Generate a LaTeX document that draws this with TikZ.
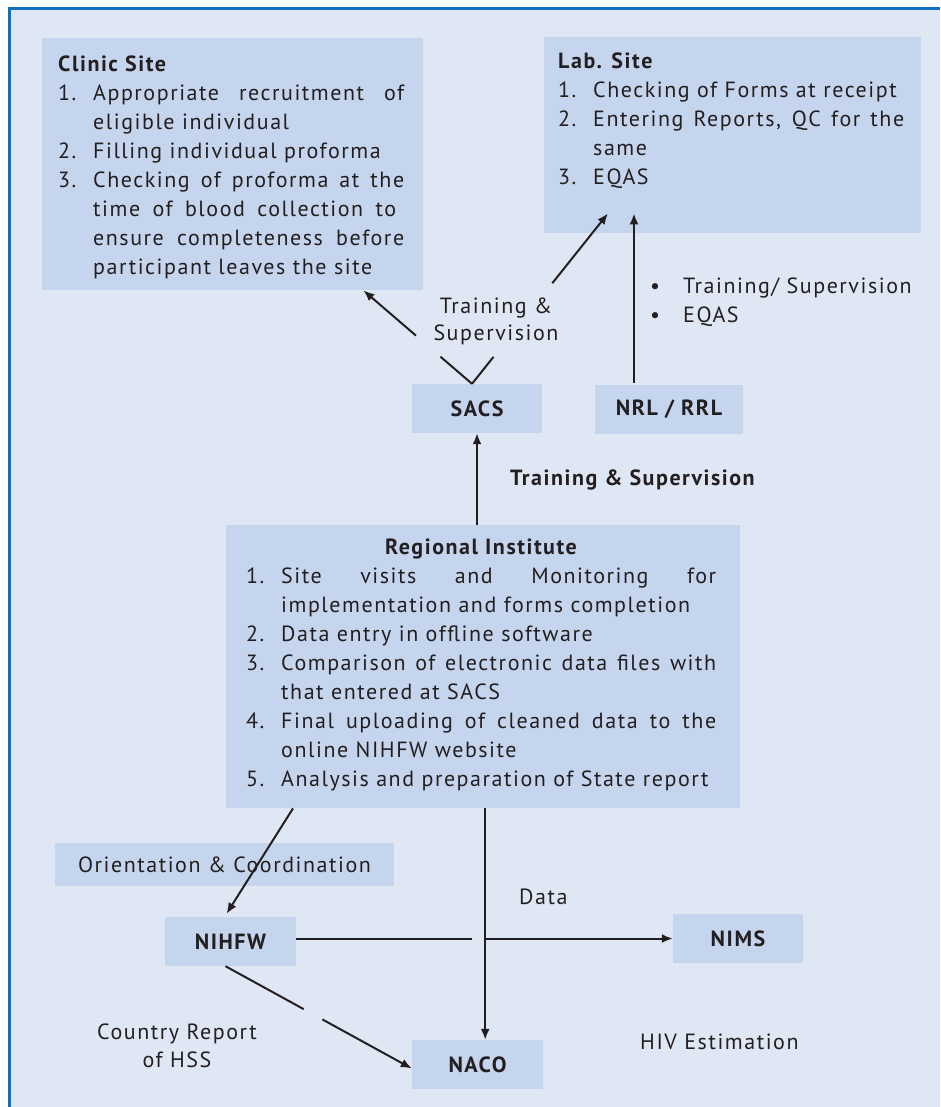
\documentclass[tikz,border=0pt]{standalone}
\usepackage{fontspec}
\setmainfont{PT Sans}[LetterSpace=7]
\usetikzlibrary{arrows.meta,calc}
\definecolor{pagebg}{HTML}{E0E7F4}
\definecolor{boxbg}{HTML}{C6D5EE}
\definecolor{rim}{HTML}{0E70C0}
\definecolor{ink}{HTML}{231F20}
\newcommand{\tp}{\rule{0pt}{20pt}}
\newcommand{\itm}[2]{\makebox[35pt][l]{#1}#2}
\newcommand{\cnt}[1]{\hspace*{35pt}#1}
\newcommand{\jst}[2]{\makebox[#1][s]{#2}}

\begin{document}
\begin{tikzpicture}[x=1pt,y=-1pt,
    every node/.style={text=ink,font=\fontsize{22}{29}\selectfont},
    blk/.style={fill=boxbg,inner sep=0pt,anchor=north west},
    tag/.style={fill=boxbg,inner sep=0pt,font=\fontsize{22}{29}\selectfont\bfseries},
    txt/.style={inner sep=0pt,align=left,anchor=north west},
    ln/.style={line width=2pt,draw=ink},
    arr/.style={line width=2pt,draw=ink,-{Latex[length=11pt,width=9pt]}}]

    \useasboundingbox (0,0) rectangle (940,1107);
    \fill[white] (0,0) rectangle (940,1107);
    \fill[pagebg] (8,8) rectangle (940,1107);
    \draw[rim,line width=3pt] (8,8.5) -- (940,8.5);
    \draw[rim,line width=3pt] (9.5,8) -- (9.5,1107);

    % boxes
    \node[blk,minimum width=381pt,minimum height=252pt] (clinic) at (42,38) {};
    \node[blk,minimum width=377pt,minimum height=196pt] (lab) at (544,37) {};
    \node[blk,minimum width=514pt,minimum height=283pt] (reg) at (226,525) {};
    \node[tag,minimum width=130pt,minimum height=49pt] (sacs) at (477,408.5) {SACS};
    \node[tag,minimum width=148pt,minimum height=49pt] (nrl) at (669,409.5) {NRL / RRL};
    \node[tag,minimum width=131pt,minimum height=49pt] (nihfw) at (230.5,941.5) {NIHFW};
    \node[tag,minimum width=130pt,minimum height=49pt] (nims) at (738,938.5) {NIMS};
    \node[tag,minimum width=131pt,minimum height=49pt] (naco) at (477.5,1064.5) {NACO};
    \node[fill=boxbg,inner sep=0pt,minimum width=339pt,minimum height=43pt] (orient) at (224.5,864.5) {Orientation \& Coordination};

    % box texts
    \node[txt] (clinictxt) at (58,51) {\tp\textbf{Clinic Site}\\
        \itm{1.}{\jst{311pt}{Appropriate recruitment of}}\\
        \cnt{eligible individual}\\
        \itm{2.}{Filling individual proforma}\\
        \itm{3.}{\jst{311pt}{Checking of proforma at the}}\\
        \cnt{\jst{303pt}{time of blood collection to}}\\
        \cnt{\jst{311pt}{ensure completeness before}}\\
        \cnt{participant leaves the site}};
    \node[txt] (labtxt) at (558,48) {\tp\textbf{Lab. Site}\\
        \itm{1.}{Checking of Forms at receipt}\\
        \itm{2.}{\jst{311pt}{Entering Reports, QC for the}}\\
        \cnt{same}\\
        \itm{3.}{EQAS}};
    \node[anchor=base,font=\fontsize{22}{29}\selectfont\bfseries] (regtitle) at (481,554) {Regional Institute};
    \node[txt] (regtxt) at (246,563) {\tp\itm{1.}{\jst{435pt}{Site visits and Monitoring for}}\\
        \cnt{implementation and forms completion}\\
        \itm{2.}{Data entry in offline software}\\
        \itm{3.}{\jst{435pt}{Comparison of electronic data files with}}\\
        \cnt{that entered at SACS}\\
        \itm{4.}{\jst{435pt}{Final uploading of cleaned data to the}}\\
        \cnt{online NIHFW website}\\
        \itm{5.}{Analysis and preparation of State report}};

    % labels
    \node[inner sep=0pt,align=center,anchor=north,font=\fontsize{22}{27}\selectfont] (sitelbl) at (496,293) {\tp Training \&\\Supervision};
    \node[txt] (nrllbl) at (650,273) {\tp\makebox[33pt][l]{\textbullet}Training/ Supervision\\
        \makebox[33pt][l]{\textbullet}EQAS};
    \node[anchor=base west,inner sep=0pt,font=\fontsize{22}{29}\selectfont\bfseries] (reglbl) at (510,485) {Training \& Supervision};
    \node[anchor=base west,inner sep=0pt] (datalbl) at (519,904) {Data};
    \node[inner sep=0pt,align=center,anchor=north,font=\fontsize{22}{28}\selectfont] (hsslbl) at (177,1019) {\tp Country Report\\of HSS};
    \node[anchor=base west,inner sep=0pt] (hivlbl) at (640,1049) {HIV Estimation};

    % connectors
    \coordinate (vtx) at ([xshift=-5pt]sacs.north);
    \coordinate (clinicin) at ([xshift=-60pt]clinic.south east);
    \coordinate (labin) at ([xshift=64pt,yshift=20pt]lab.south west);
    \coordinate (nrlin) at ([xshift=90pt,yshift=20pt]lab.south west);
    \draw[ln] (vtx) -- ($(vtx)!0.29!(clinicin)$);
    \draw[arr] ($(vtx)!0.516!(clinicin)$) -- (clinicin);
    \draw[ln] (vtx) -- ($(vtx)!0.158!(labin)$);
    \draw[arr] ($(vtx)!0.59!(labin)$) -- (labin);
    \draw[arr] ([yshift=2pt]nrl.north -| nrlin) -- (nrlin);
    \draw[arr] (reg.north -| sacs.south) -- (sacs.south);
    \draw[arr] ([xshift=67pt]reg.south west) -- ([xshift=-4pt,yshift=3pt]nihfw.north);
    \coordinate (drop) at ([xshift=2pt]reg.south);
    \draw[arr] (drop) -- (drop |- naco.north);
    \coordinate (hop) at (472,938.5);
    \draw[ln] (nihfw.east |- nims.west) -- (hop);
    \draw[arr] (drop |- nims.west) -- (nims.west);
    \coordinate (rpt) at ([xshift=-5pt]nihfw.south);
    \coordinate (rptin) at ([yshift=-4pt]naco.west);
    \draw[ln] (rpt) -- ($(rpt)!0.42!(rptin)$);
    \draw[arr] ($(rpt)!0.52!(rptin)$) -- (rptin);
\end{tikzpicture}
\end{document}
